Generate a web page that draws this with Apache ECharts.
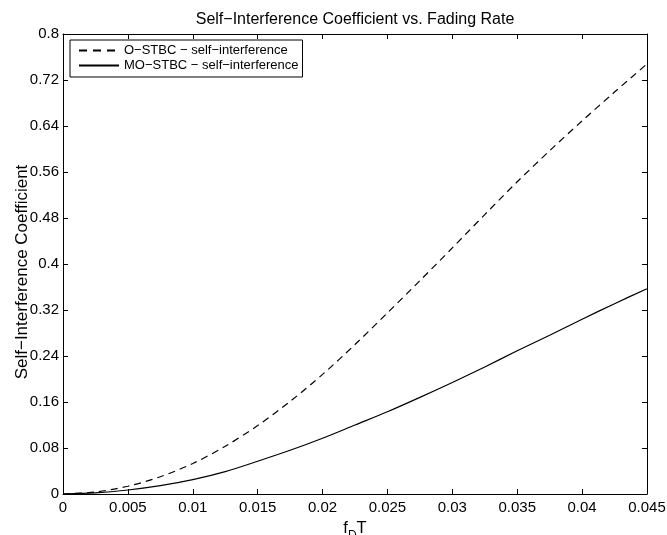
<!DOCTYPE html>
<html>
<head>
<meta charset="utf-8">
<script src="https://cdn.jsdelivr.net/npm/echarts@6/dist/echarts.min.js"></script>
<style>
html,body{margin:0;padding:0;background:#fff;}
#chart{width:667px;height:535px;}
</style>
</head>
<body>
<div id="chart"></div>
<script>
const xValues = [0, 0.0025, 0.005, 0.0075, 0.01, 0.0125, 0.015, 0.0175, 0.02, 0.0225, 0.025, 0.0275, 0.03, 0.0325, 0.035, 0.0375, 0.04, 0.0425, 0.045];
const oStbc = [0, 0.0035, 0.0135, 0.03, 0.053, 0.083, 0.119, 0.161, 0.208, 0.26, 0.315, 0.371, 0.428, 0.486, 0.543, 0.597, 0.649, 0.699, 0.748];
const moStbc = [0, 0.002, 0.007, 0.0145, 0.025, 0.039, 0.057, 0.076, 0.097, 0.12, 0.143, 0.168, 0.194, 0.221, 0.249, 0.276, 0.304, 0.331, 0.357];
const xTickLabels = ['0', '0.005', '0.01', '0.015', '0.02', '0.025', '0.03', '0.035', '0.04', '0.045'];
const yTickLabels = ['0', '0.08', '0.16', '0.24', '0.32', '0.4', '0.48', '0.56', '0.64', '0.72', '0.8'];
const seriesNames = ['O\u2212STBC \u2212 self\u2212interference', 'MO\u2212STBC \u2212 self\u2212interference'];

const FONT = '"Liberation Sans", Arial, Helvetica, sans-serif';
const chart = echarts.init(document.getElementById('chart'), null, {renderer: 'canvas'});
const pair = (ys) => xValues.map((x, i) => [x, ys[i]]);
const axisLine = {show: true, onZero: false, lineStyle: {color: '#000', width: 1}};
const tick = {show: true, inside: true, length: 5, lineStyle: {color: '#000', width: 1}};

chart.setOption({
  animation: false,
  backgroundColor: '#fff',
  title: {
    text: 'Self\u2212Interference Coefficient vs. Fading Rate',
    left: 355, textAlign: 'center', top: 12, padding: 0,
    textStyle: {fontFamily: FONT, fontSize: 16, fontWeight: 'normal', color: '#000'}
  },
  grid: {left: 63, right: 20, top: 34, bottom: 41, containLabel: false, outerBoundsMode: 'none'},
  legend: {
    orient: 'vertical', left: 70, top: 40,
    padding: [4, 4, 5, 8], itemGap: 2, itemWidth: 40, itemHeight: 12,
    borderColor: '#000', borderWidth: 1, backgroundColor: '#fff',
    itemStyle: {opacity: 0},
    lineStyle: {type: [8, 6]},
    textStyle: {fontFamily: FONT, fontSize: 13, color: '#000', lineHeight: 13},
    data: [{name: seriesNames[0], lineStyle: {type: [8, 6]}}, {name: seriesNames[1], lineStyle: {type: 'solid'}}]
  },
  xAxis: [{
    type: 'value', min: 0, max: 0.045, interval: 0.005, position: 'bottom',
    axisLine: axisLine, axisTick: tick, splitLine: {show: false},
    axisLabel: {fontFamily: FONT, fontSize: 15, color: '#000', margin: 6,
      formatter: v => xTickLabels[Math.round(v / 0.005)]},
    name: 'f{sub|D}T', nameLocation: 'middle', nameGap: 21,
    nameTextStyle: {fontFamily: FONT, fontSize: 16.5, color: '#000',
      rich: {sub: {fontFamily: FONT, fontSize: 12, color: '#000', padding: [14, 0, 0, 0]}}}
  }, {
    type: 'value', min: 0, max: 0.045, interval: 0.005, position: 'top',
    axisLine: axisLine, axisTick: tick, axisLabel: {show: false}, splitLine: {show: false}
  }],
  yAxis: [{
    type: 'value', min: 0, max: 0.8, interval: 0.08, position: 'left',
    axisLine: axisLine, axisTick: tick, splitLine: {show: false},
    axisLabel: {fontFamily: FONT, fontSize: 15, color: '#000', margin: 4,
      formatter: v => yTickLabels[Math.round(v / 0.08)]},
    name: 'Self\u2212Interference Coefficient', nameLocation: 'middle', nameGap: 32,
    nameMoveOverlap: false,
    nameTextStyle: {fontFamily: FONT, fontSize: 17, color: '#000', padding: [0, 16, 0, 0]}
  }, {
    type: 'value', min: 0, max: 0.8, interval: 0.08, position: 'right',
    axisLine: axisLine, axisTick: tick, axisLabel: {show: false}, splitLine: {show: false}
  }],
  series: [{
    name: seriesNames[0], type: 'line', data: pair(oStbc), smooth: 0.3,
    symbol: 'none', showSymbol: false, xAxisIndex: 0, yAxisIndex: 0,
    lineStyle: {color: '#000', width: 1.2, type: [7, 5]}, itemStyle: {color: '#000'}
  }, {
    name: seriesNames[1], type: 'line', data: pair(moStbc), smooth: 0.3,
    symbol: 'none', showSymbol: false, xAxisIndex: 0, yAxisIndex: 0,
    lineStyle: {color: '#000', width: 1.2, type: 'solid'}, itemStyle: {color: '#000'}
  }]
});
</script>
</body>
</html>
